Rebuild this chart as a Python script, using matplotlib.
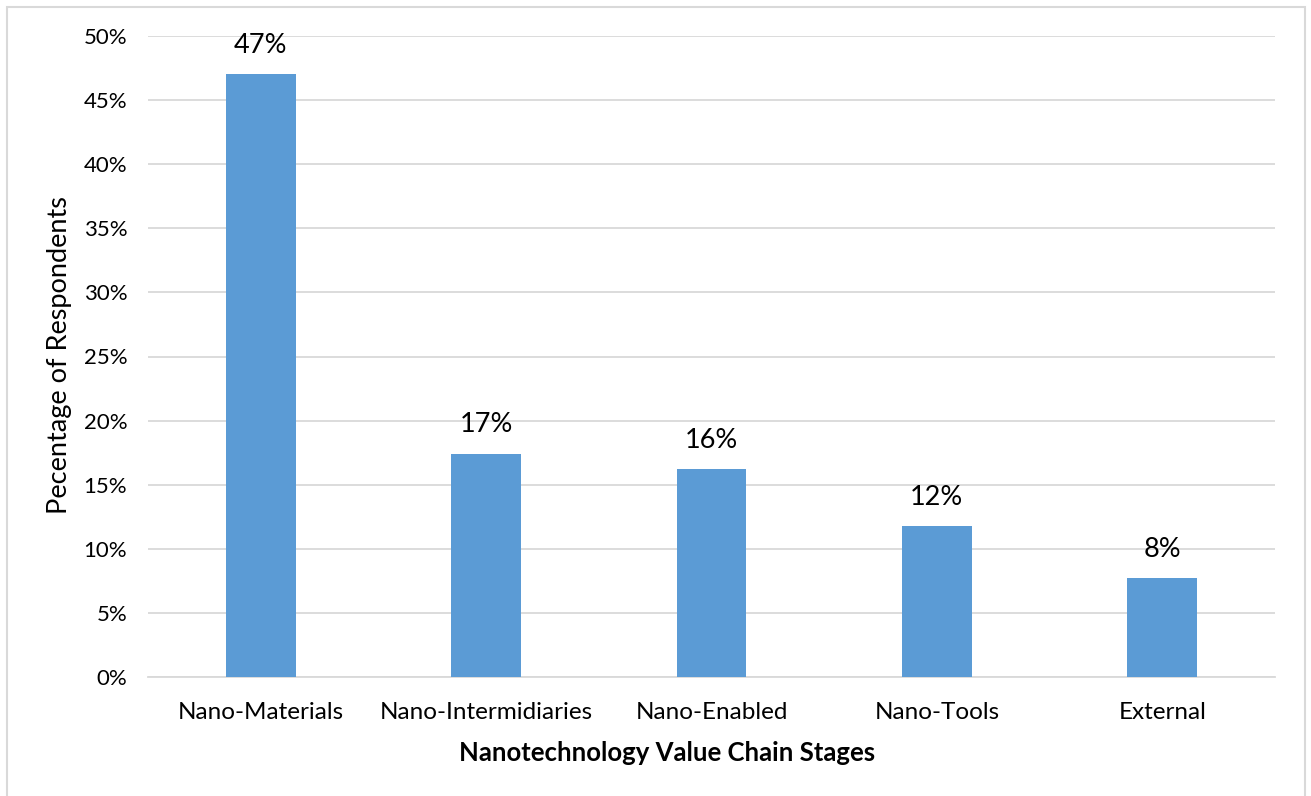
import numpy as np
import matplotlib.pyplot as plt
from matplotlib.patches import Rectangle

plt.rcParams.update({
    "font.family": ["Lato", "DejaVu Sans"],
    "font.size": 13
})

stages = ["Nano-Materials", "Nano-Intermidiaries", "Nano-Enabled", "Nano-Tools", "External"]
share = [47.0, 17.4, 16.2, 11.75, 7.7]
yticks = [0, 5, 10, 15, 20, 25, 30, 35, 40, 45, 50]

W, H = 1311, 796
fig = plt.figure(figsize=(W / 100, H / 100), dpi=100)
ax = fig.add_axes([148 / W, 1 - 677 / H, (1275 - 148) / W, (677 - 36) / H])

# light outer frame around the whole chart area
fig.patches.append(Rectangle((7 / W, -0.01), (1305 - 7) / W, 1 - 7 / H + 0.01,
                             transform=fig.transFigure, fill=False,
                             edgecolor="#d9d9d9", linewidth=1.5))

x = np.arange(len(stages))
ax.bar(x, share, width=0.31, color="#5b9bd5", zorder=3)
for xi, v in zip(x, share):
    ax.text(xi, v + 1.3, f"{v:.0f}%", ha="center", va="bottom", fontsize=19.5, color="black")

ax.set_xlim(-0.5, len(stages) - 0.5)
ax.set_ylim(0, 50)
ax.set_yticks(yticks)
ax.set_yticklabels([f"{t}%" for t in yticks], fontsize=16)
ax.set_xticks(x)
ax.set_xticklabels(stages, fontsize=17.5)
ax.tick_params(length=0)
ax.tick_params(axis="y", pad=15)
ax.tick_params(axis="x", pad=18)
ax.grid(axis="y", color="#d9d9d9", linewidth=1.3, zorder=0)
for s in ["top", "right", "left"]:
    ax.spines[s].set_visible(False)
ax.spines["bottom"].set_color("#d9d9d9")
ax.spines["bottom"].set_linewidth(1.3)

fig.text(60 / W, 1 - 355 / H, "Pecentage of Respondents", rotation=90,
         ha="center", va="center", fontsize=19.5)
fig.text(667 / W, 1 - 753 / H, "Nanotechnology Value Chain Stages",
         ha="center", va="center", fontsize=18.5, fontweight="bold")

plt.savefig("out.png", dpi=100)
